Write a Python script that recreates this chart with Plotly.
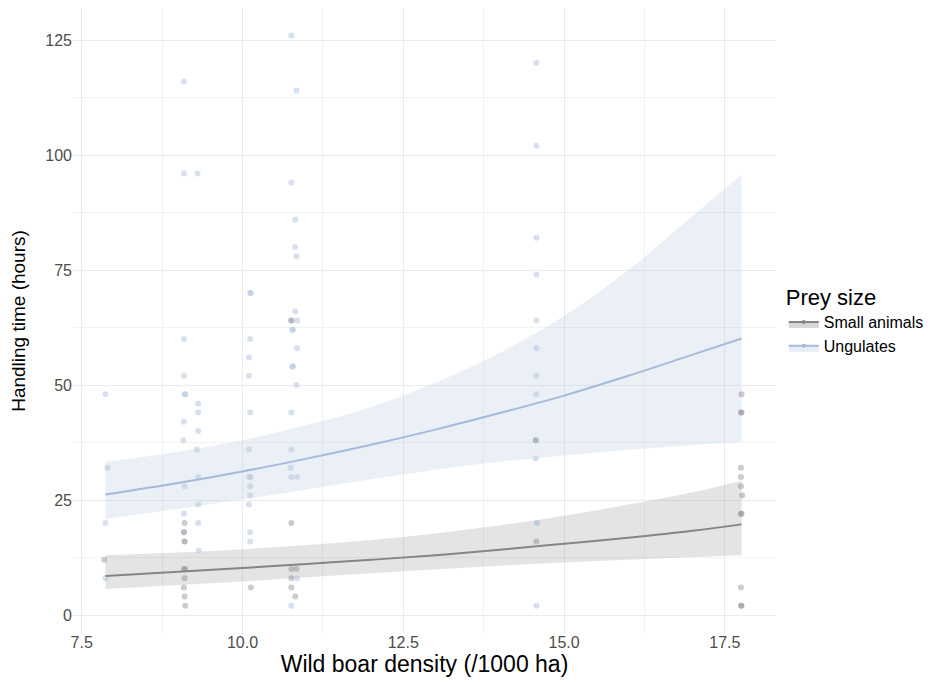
import plotly.graph_objects as go

# ---- data ----
ung_x = [7.87, 7.90, 7.87, 7.87,
         9.09, 9.09, 9.09, 9.09, 9.10, 9.11, 9.09, 9.08, 9.10, 9.09, 9.09, 9.10,
         9.30, 9.31, 9.31, 9.31, 9.29, 9.31, 9.31, 9.31, 9.32,
         10.12, 10.13, 10.12, 10.10, 10.10, 10.12, 10.10, 10.10, 10.13, 10.12, 10.12, 10.10, 10.12, 10.12,
         10.76, 10.76, 10.76, 10.78, 10.78, 10.78, 10.78, 10.76, 10.76, 10.75, 10.76, 10.76,
         10.84, 10.82, 10.82, 10.84, 10.82, 10.85, 10.85, 10.84, 10.85, 10.85,
         14.57, 14.57, 14.57, 14.57, 14.57, 14.57, 14.57, 14.57, 14.56, 14.56, 14.58, 14.58, 14.57]
ung_y = [48, 32, 20, 8,
         116, 96, 60, 52, 48, 48, 42, 38, 28, 22, 18, 16,
         96, 46, 44, 40, 36, 30, 24, 20, 14,
         70, 70, 60, 56, 52, 44, 36, 30, 30, 28, 26, 24, 18, 16,
         126, 94, 64, 62, 62, 54, 54, 44, 36, 32, 30, 2,
         114, 86, 80, 78, 66, 64, 58, 50, 30, 8,
         120, 102, 82, 74, 64, 58, 52, 48, 38, 34, 20, 20, 2]

small_x = [7.85,
           9.10, 9.09, 9.10, 9.09, 9.11, 9.10, 9.09, 9.10, 9.11,
           10.13,
           10.76, 10.76, 10.76, 10.76, 10.76,
           10.84, 10.82,
           14.56, 14.57,
           17.76, 17.75, 17.76, 17.75, 17.75, 17.75, 17.77, 17.75, 17.76, 17.75, 17.75, 17.76]
small_y = [12,
           20, 18, 16, 10, 10, 8, 6, 4, 2,
           6,
           64, 20, 10, 8, 6,
           10, 4,
           38, 16,
           48, 44, 44, 32, 30, 28, 26, 22, 22, 6, 2, 2]

fit_x = [7.87, 9.0, 10.0, 11.0, 12.0, 13.0, 14.0, 15.0, 16.0, 17.0, 17.76]
ung_fit = [26.2, 28.7, 31.2, 34.0, 37.0, 40.3, 43.9, 47.7, 52.0, 56.6, 60.1]
ung_hi = [33.3, 35.5, 38.0, 41.3, 45.2, 50.5, 57.0, 65.0, 75.0, 86.8, 95.7]
ung_lo = [20.9, 23.1, 25.1, 27.3, 29.5, 31.6, 33.3, 34.7, 35.9, 36.9, 37.7]
small_fit = [8.5, 9.4, 10.2, 11.1, 12.0, 13.0, 14.2, 15.5, 16.8, 18.3, 19.7]
small_hi = [13.0, 13.6, 14.3, 15.2, 16.3, 17.7, 19.5, 21.6, 24.0, 26.7, 29.2]
small_lo = [5.65, 6.5, 7.3, 8.2, 9.1, 9.9, 10.7, 11.4, 12.0, 12.6, 13.0]

groups = ["Small animals", "Ungulates"]
x_ticks = [7.5, 10.0, 12.5, 15.0, 17.5]
y_ticks = [0, 25, 50, 75, 100, 125]

GRAY = "#858585"
BLUE = "#a4badb"
GRAY_FILL = "rgba(127,127,127,0.21)"
BLUE_FILL = "rgba(176,196,222,0.25)"

fig = go.Figure()

# ribbons
for lo, hi, fc in [(ung_lo, ung_hi, BLUE_FILL), (small_lo, small_hi, GRAY_FILL)]:
    fig.add_trace(go.Scatter(x=fit_x, y=lo, mode="lines", line=dict(width=0, shape="spline"),
                             showlegend=False, hoverinfo="skip"))
    fig.add_trace(go.Scatter(x=fit_x, y=hi, mode="lines", line=dict(width=0, shape="spline"),
                             fill="tonexty", fillcolor=fc, showlegend=False, hoverinfo="skip"))

# points
fig.add_trace(go.Scatter(x=ung_x, y=ung_y, mode="markers", showlegend=False,
                         marker=dict(color="rgb(176,196,222)", size=6, opacity=0.5)))
fig.add_trace(go.Scatter(x=small_x, y=small_y, mode="markers", showlegend=False,
                         marker=dict(color="rgb(127,127,127)", size=6, opacity=0.4)))

# fit lines
fig.add_trace(go.Scatter(x=fit_x, y=ung_fit, mode="lines", showlegend=False,
                         line=dict(color=BLUE, width=2, shape="spline")))
fig.add_trace(go.Scatter(x=fit_x, y=small_fit, mode="lines", showlegend=False,
                         line=dict(color=GRAY, width=2, shape="spline")))

# legend-only entries
for name, lc, fc in [(groups[0], GRAY, "rgba(127,127,127,0.3)"), (groups[1], BLUE, "rgba(176,196,222,0.3)")]:
    fig.add_trace(go.Scatter(x=[None], y=[None], name=name, mode="lines+markers",
                             fill="toself", fillcolor=fc,
                             line=dict(color=lc, width=2), marker=dict(color=lc, size=4)))

fig.update_layout(
    width=933, height=678,
    margin=dict(l=65, r=165, t=0, b=52),
    paper_bgcolor="white", plot_bgcolor="white",
    font=dict(family="Liberation Sans, Arial, sans-serif", color="#000000"),
    legend=dict(x=1.011, y=0.571, xanchor="left", yanchor="top", traceorder="normal",
                title=dict(text="Prey size", font=dict(size=22)),
                font=dict(size=16), tracegroupgap=0, itemwidth=30),
    xaxis=dict(range=[7.365, 18.295], tickvals=x_ticks, ticktext=[f"{v:.1f}" for v in x_ticks],
               showgrid=True, gridcolor="#ebebeb", gridwidth=1.1, zeroline=False,
               minor=dict(dtick=1.25, tick0=7.5, showgrid=True, gridcolor="#f2f2f2", gridwidth=0.6),
               tickfont=dict(size=16, color="#4d4d4d"), ticks="", ticklabelstandoff=-3,
               title=dict(text="Wild boar density (/1000 ha)", font=dict(size=23), standoff=4)),
    yaxis=dict(range=[-4.13, 131.96], tickvals=y_ticks,
               showgrid=True, gridcolor="#ebebeb", gridwidth=1.1, zeroline=False,
               minor=dict(dtick=12.5, tick0=0, showgrid=True, gridcolor="#f2f2f2", gridwidth=0.6),
               tickfont=dict(size=16, color="#4d4d4d"), ticks="",
               title=dict(text="Handling time (hours)", font=dict(size=19), standoff=14)),
)

fig.write_html("out.html")
